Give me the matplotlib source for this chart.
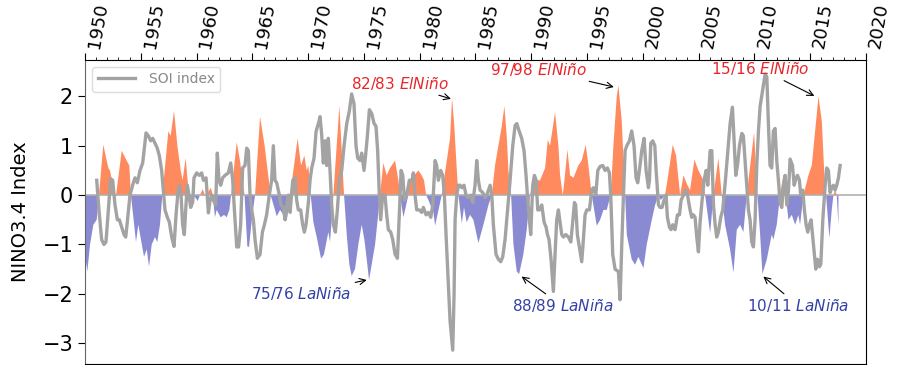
import numpy as np
import matplotlib
matplotlib.use("Agg")
import matplotlib.pyplot as plt
from matplotlib.ticker import MultipleLocator

# ---------------- data ----------------
nino_years = [1950.00, 1950.21, 1950.45, 1950.75, 1951.05, 1951.25, 1951.64, 1952.09, 1952.24, 1952.69,
              1952.75, 1952.84, 1953.29, 1953.73, 1953.97, 1954.12, 1954.57, 1954.78, 1955.29, 1955.53,
              1955.74, 1955.98, 1956.27, 1956.48, 1956.72, 1956.93, 1957.47, 1957.68, 1957.98, 1958.28,
              1958.58, 1958.75, 1959.02, 1959.20, 1959.32, 1959.45, 1959.60, 1959.90, 1960.10, 1960.30,
              1960.55, 1960.75, 1961.00, 1961.29, 1961.45, 1961.65, 1961.80, 1962.16, 1962.46, 1962.70,
              1962.94, 1963.09, 1963.60, 1963.89, 1964.30, 1964.55, 1964.70, 1964.95, 1965.24, 1965.69,
              1966.10, 1966.64, 1967.03, 1967.18, 1967.48, 1967.80, 1968.08, 1968.38, 1969.06, 1969.36,
              1969.66, 1969.87, 1970.02, 1970.23, 1970.47, 1970.77, 1971.16, 1971.42, 1971.81, 1971.96,
              1972.11, 1972.26, 1972.80, 1973.22, 1973.46, 1973.69, 1973.90, 1974.20, 1974.50, 1974.80,
              1975.04, 1975.25, 1975.46, 1975.70, 1976.00, 1976.23, 1976.44, 1976.74, 1977.04, 1977.34,
              1977.79, 1978.09, 1978.24, 1978.54, 1978.69, 1978.98, 1979.13, 1979.88, 1980.18, 1980.39,
              1980.57, 1980.78, 1981.23, 1981.38, 1981.97, 1982.36, 1982.72, 1982.90, 1983.10, 1983.30,
              1983.47, 1983.77, 1983.97, 1984.21, 1984.51, 1984.81, 1985.26, 1985.71, 1986.16, 1986.46,
              1986.75, 1987.05, 1987.35, 1987.59, 1987.80, 1987.95, 1988.19, 1988.40, 1988.70, 1988.91,
              1989.29, 1989.59, 1989.89, 1990.19, 1990.79, 1991.24, 1991.48, 1991.68, 1992.13, 1992.43,
              1992.58, 1992.82, 1992.97, 1993.24, 1993.48, 1993.78, 1994.22, 1994.52, 1994.88, 1995.12,
              1995.42, 1995.87, 1996.17, 1996.47, 1996.76, 1997.12, 1997.36, 1997.66, 1997.81, 1998.11,
              1998.41, 1998.56, 1999.00, 1999.30, 1999.60, 2000.05, 2000.35, 2000.80, 2001.10, 2001.40,
              2001.60, 2001.99, 2002.20, 2002.68, 2002.98, 2003.34, 2003.64, 2004.00, 2004.23, 2004.62,
              2004.98, 2005.43, 2005.58, 2006.03, 2006.33, 2006.77, 2007.07, 2007.37, 2007.82, 2008.12,
              2008.42, 2008.72, 2009.01, 2009.31, 2009.97, 2010.27, 2010.51, 2010.72, 2011.11, 2011.55,
              2011.70, 2012.00, 2012.30, 2012.60, 2012.80, 2013.05, 2013.35, 2013.65, 2013.94, 2014.09,
              2014.39, 2014.84, 2015.14, 2015.44, 2015.74, 2016.04, 2016.25, 2016.42, 2016.72, 2016.93,
              2017.08, 2017.23, 2017.38, 2017.53]
nino_vals = [-1.20, -1.55, -1.00, -0.60, -0.50, 0.00, 1.02, 0.55, 0.50, 0.00,
             -0.05, 0.10, 0.90, 0.70, 0.60, 0.00, -0.95, -0.60, -1.25, -1.10,
             -1.45, -1.00, -0.85, -0.95, -0.60, 0.00, 1.29, 1.20, 1.71, 1.00,
             0.50, 0.30, 0.75, 0.30, 0.00, -0.20, 0.00, -0.05, -0.12, 0.00,
             0.12, 0.00, 0.05, 0.15, 0.00, -0.45, -0.30, -0.45, -0.40, -0.45,
             -0.30, 0.00, 1.07, 0.70, 0.00, -1.04, -1.05, -0.50, 0.00, 1.59,
             1.00, 0.00, -0.30, -0.43, -0.30, -0.40, -0.53, 0.00, 1.15, 0.60,
             0.80, 0.50, 0.60, 0.00, -0.55, -0.85, -1.29, -1.20, -0.75, -0.95,
             -0.50, 0.00, 1.81, 0.00, -0.80, -1.40, -1.64, -1.50, -1.00, -0.60,
             -0.90, -1.30, -1.72, -1.40, -1.00, -0.50, 0.00, 0.65, 0.40, 0.55,
             0.70, 0.30, 0.00, -0.45, -0.30, 0.00, 0.30, 0.50, 0.40, 0.30,
             0.00, -0.10, -0.35, -0.62, 0.00, 0.60, 1.15, 1.97, 1.40, 0.60,
             0.00, -0.57, -0.25, -0.55, -0.40, -0.50, -0.97, -0.60, -0.20, 0.00,
             0.60, 1.00, 1.39, 1.80, 1.20, 0.50, 0.00, -1.00, -1.55, -1.60,
             -1.20, -0.70, 0.00, 0.30, 0.30, 0.55, 1.12, 1.00, 1.68, 1.00,
             0.40, 0.00, 0.30, 0.92, 0.40, 0.35, 0.60, 0.70, 1.02, 0.60,
             0.00, -0.62, -0.50, -0.30, -0.30, 0.00, 1.00, 2.00, 2.22, 1.50,
             0.00, -0.80, -1.30, -1.41, -1.25, -1.48, -1.00, -0.50, -0.20, 0.00,
             -0.10, 0.00, 0.30, 1.02, 0.80, 0.00, 0.40, 0.20, 0.10, 0.72,
             0.50, 0.30, 0.00, -0.77, 0.00, 0.75, 0.00, -0.60, -1.10, -1.57,
             -0.70, -0.60, -0.75, 0.00, 1.27, 0.00, -0.80, -1.60, -1.30, -0.80,
             -0.90, -0.60, 0.00, 0.40, 0.00, -0.50, -0.40, -0.60, -0.40, -0.60,
             0.00, 0.40, 0.60, 1.30, 2.00, 1.50, 0.50, 0.00, -0.87, -0.30,
             0.00, 0.10, 0.00, -0.62]

soi_years = [1951.05, 1951.25, 1951.49, 1951.70, 1951.88, 1952.09, 1952.30, 1952.48, 1952.69, 1952.90,
             1953.08, 1953.29, 1953.50, 1953.65, 1953.79, 1954.03, 1954.27, 1954.48, 1954.69, 1954.93,
             1955.17, 1955.29, 1955.47, 1955.68, 1955.89, 1956.07, 1956.27, 1956.48, 1956.66, 1956.87,
             1957.02, 1957.17, 1957.38, 1957.56, 1957.77, 1957.98, 1958.16, 1958.31, 1958.46, 1958.61,
             1958.75, 1958.90, 1959.05, 1959.17, 1959.32, 1959.47, 1959.65, 1959.77, 1960.01, 1960.25,
             1960.46, 1960.61, 1960.85, 1961.06, 1961.21, 1961.35, 1961.50, 1961.71, 1961.86, 1962.01,
             1962.16, 1962.34, 1962.55, 1962.85, 1963.06, 1963.24, 1963.39, 1963.60, 1963.77, 1963.95,
             1964.13, 1964.34, 1964.49, 1964.64, 1964.79, 1964.94, 1965.09, 1965.24, 1965.45, 1965.69,
             1965.90, 1966.08, 1966.28, 1966.52, 1966.73, 1966.88, 1967.03, 1967.18, 1967.42, 1967.57,
             1967.78, 1967.93, 1968.08, 1968.23, 1968.38, 1968.62, 1968.82, 1968.97, 1969.12, 1969.33,
             1969.51, 1969.66, 1969.81, 1970.02, 1970.17, 1970.32, 1970.53, 1970.71, 1970.92, 1971.07,
             1971.22, 1971.36, 1971.51, 1971.66, 1971.81, 1971.96, 1972.11, 1972.26, 1972.44, 1972.62,
             1972.80, 1973.01, 1973.22, 1973.46, 1973.69, 1973.90, 1974.11, 1974.29, 1974.44, 1974.65,
             1974.80, 1975.01, 1975.19, 1975.31, 1975.49, 1975.70, 1975.91, 1976.08, 1976.23, 1976.38,
             1976.50, 1976.68, 1976.89, 1977.04, 1977.19, 1977.40, 1977.58, 1977.79, 1978.00, 1978.18,
             1978.33, 1978.48, 1978.63, 1978.84, 1979.07, 1979.31, 1979.43, 1979.58, 1979.73, 1979.97,
             1980.18, 1980.33, 1980.57, 1980.78, 1980.99, 1981.17, 1981.38, 1981.52, 1981.67, 1981.88,
             1982.06, 1982.21, 1982.36, 1982.57, 1982.72, 1982.96, 1983.08, 1983.17, 1983.32, 1983.47,
             1983.62, 1983.77, 1983.97, 1984.15, 1984.36, 1984.57, 1984.75, 1984.96, 1985.11, 1985.26,
             1985.41, 1985.65, 1985.86, 1986.01, 1986.31, 1986.46, 1986.60, 1986.84, 1987.05, 1987.26,
             1987.44, 1987.65, 1987.80, 1987.95, 1988.10, 1988.34, 1988.55, 1988.70, 1988.91, 1989.14,
             1989.35, 1989.53, 1989.65, 1989.83, 1989.95, 1990.13, 1990.28, 1990.43, 1990.58, 1990.73,
             1990.94, 1991.15, 1991.33, 1991.45, 1991.59, 1991.77, 1991.98, 1992.13, 1992.28, 1992.43,
             1992.58, 1992.73, 1992.88, 1993.09, 1993.33, 1993.54, 1993.69, 1993.87, 1993.98, 1994.13,
             1994.31, 1994.52, 1994.67, 1994.82, 1994.97, 1995.21, 1995.42, 1995.57, 1995.78, 1995.96,
             1996.17, 1996.41, 1996.61, 1996.82, 1997.00, 1997.12, 1997.30, 1997.51, 1997.81, 1997.96,
             1998.11, 1998.26, 1998.41, 1998.56, 1998.80, 1999.00, 1999.21, 1999.39, 1999.54, 1999.69,
             1999.90, 2000.11, 2000.29, 2000.50, 2000.59, 2000.71, 2000.89, 2001.07, 2001.19, 2001.40,
             2001.54, 2001.72, 2001.90, 2002.08, 2002.20, 2002.38, 2002.53, 2002.68, 2002.89, 2003.10,
             2003.28, 2003.43, 2003.64, 2003.85, 2004.00, 2004.23, 2004.38, 2004.53, 2004.68, 2004.83,
             2004.98, 2005.13, 2005.31, 2005.49, 2005.67, 2005.82, 2006.03, 2006.18, 2006.33, 2006.48,
             2006.62, 2006.77, 2006.98, 2007.16, 2007.28, 2007.40, 2007.58, 2007.82, 2008.03, 2008.18,
             2008.33, 2008.48, 2008.66, 2008.87, 2009.01, 2009.16, 2009.31, 2009.46, 2009.61, 2009.76,
             2009.91, 2010.06, 2010.21, 2010.36, 2010.51, 2010.72, 2010.96, 2011.11, 2011.26, 2011.40,
             2011.55, 2011.70, 2011.85, 2012.00, 2012.15, 2012.30, 2012.45, 2012.60, 2012.75, 2012.90,
             2013.05, 2013.20, 2013.41, 2013.56, 2013.74, 2013.86, 2014.03, 2014.15, 2014.33, 2014.48,
             2014.63, 2014.78, 2014.93, 2015.08, 2015.29, 2015.50, 2015.65, 2015.83, 2015.95, 2016.13,
             2016.34, 2016.48, 2016.63, 2016.78, 2016.93, 2017.08, 2017.23, 2017.38, 2017.53, 2017.68]
soi_vals = [0.30, -0.30, -0.90, -1.00, -0.95, -0.30, 0.33, 0.30, -0.20, -0.50,
            -0.50, -0.65, -0.80, -0.85, -0.55, 0.00, 0.20, 0.35, 0.25, 0.50,
            0.65, 0.90, 1.26, 1.20, 1.10, 1.15, 1.05, 0.95, 0.80, 0.50,
            0.10, -0.30, -0.45, -0.55, -0.85, -1.04, -0.40, 0.00, 0.20, 0.00,
            -0.60, -0.80, -0.20, 0.20, 0.00, -0.25, -0.15, 0.35, 0.45, 0.40,
            0.45, 0.30, 0.35, -0.36, -0.10, 0.00, -0.10, -0.20, 0.85, 0.30,
            0.20, 0.35, 0.40, 0.45, 0.65, 0.30, -0.30, -1.05, -1.05, -0.60,
            0.55, 0.60, 0.95, 0.90, 0.00, -0.30, -0.50, -0.90, -1.28, -1.20,
            -0.75, -0.60, -0.40, 0.00, 0.30, 1.00, 0.30, 0.25, 0.00, -0.20,
            -0.25, -0.50, -0.20, 0.00, -0.35, 0.30, 0.35, -0.10, -0.30, -0.30,
            -0.60, -0.75, -0.60, -0.15, 0.30, 0.55, 0.75, 1.29, 1.45, 1.59,
            1.20, 0.65, 1.10, 0.60, 1.15, 0.50, -0.20, -0.60, -0.75, -0.30,
            0.30, 0.50, 1.00, 1.45, 1.70, 2.05, 1.85, 1.00, 0.75, 0.70,
            0.85, 0.50, 0.90, 1.20, 1.73, 1.65, 1.45, 1.40, 0.90, 0.00,
            -0.50, 0.00, 0.00, -0.40, -0.70, -0.75, -0.90, -1.20, -1.28, -0.35,
            0.50, 0.40, -0.10, 0.00, 0.30, 0.30, 0.45, 0.00, -0.30, -0.30,
            -0.35, -0.25, -0.40, -0.35, -0.45, -0.20, 0.70, 0.60, 0.30, 0.50,
            0.40, 0.00, -0.80, -1.80, -2.55, -3.14, -2.00, -0.50, 0.00, 0.20,
            0.20, 0.15, 0.20, 0.00, -0.05, 0.00, -0.15, 0.20, 0.70, 0.30,
            0.10, 0.05, -0.05, 0.00, 0.20, 0.00, -0.60, -1.20, -1.30, -1.35,
            -1.25, -0.90, -0.50, -0.10, 0.30, 1.00, 1.41, 1.45, 1.30, 1.15,
            0.90, 0.40, 0.00, -0.50, -0.80, 0.20, 0.40, 0.30, -0.30, -0.30,
            -0.20, -0.55, -0.65, -0.80, -0.90, -1.30, -1.95, -1.20, -0.50, -0.30,
            -0.55, -0.80, -0.85, -0.80, -0.85, -0.95, -0.60, -0.15, -0.20, -0.80,
            -1.05, -1.35, -0.90, -0.40, -0.30, -0.30, 0.10, 0.15, 0.00, 0.50,
            0.58, 0.60, 0.50, 0.55, 0.45, 0.00, -1.20, -1.50, -1.55, -2.12,
            -1.00, 0.00, 0.90, 1.00, 1.10, 1.30, 1.00, 0.35, 0.25, 0.50,
            0.90, 1.15, 0.50, 0.15, 0.30, 1.05, 1.10, 1.00, 0.50, -0.20,
            -0.25, -0.25, -0.10, 0.00, -0.45, -0.65, -0.70, -0.60, -0.70, -0.40,
            -0.40, -0.10, 0.00, 0.10, 0.00, -0.30, -0.45, -0.40, -0.45, -0.85,
            -1.15, -0.55, -0.10, 0.30, 0.50, 0.20, 0.90, 0.90, -0.20, -0.60,
            -0.85, -0.75, -0.45, -0.30, 0.00, 0.30, 0.80, 1.45, 1.78, 1.10,
            0.40, 0.60, 1.00, 1.25, 1.20, 0.70, 0.20, -0.30, -0.50, -0.95,
            -1.05, -0.50, 0.60, 1.30, 1.80, 2.10, 2.45, 2.40, 1.40, 0.60,
            0.55, 1.30, 1.35, 0.70, 0.30, -0.15, -0.25, 0.20, 0.40, -0.20,
            0.10, 0.73, 0.60, 0.20, 0.35, 0.40, 0.30, 0.00, 0.10, -0.30,
            -0.60, -0.75, -0.60, -0.50, -1.00, -1.50, -1.30, -1.45, -1.40, -0.50,
            0.20, 0.55, 0.50, 0.05, 0.15, 0.20, 0.10, 0.20, 0.35, 0.60]

year_ticks = list(range(1950, 2021, 5))

events = ["82/83", "97/98", "15/16", "75/76", "88/89", "10/11"]
event_kind = ["ElNiño", "ElNiño", "ElNiño", "LaNiña", "LaNiña", "LaNiña"]
event_xy = [(1982.8, 1.95), (1997.4, 2.19), (2015.37, 2.01),
            (1975.25, -1.72), (1989.13, -1.65), (2010.80, -1.65)]
event_text_xy = [(1978.23, 2.26), (1990.69, 2.54), (2010.54, 2.56),
                 (1969.36, -2.00), (1992.80, -2.245), (2013.95, -2.245)]

# ---------------- figure ----------------
fig = plt.figure(figsize=(8.97, 3.65), dpi=100)
ax = fig.add_axes([85 / 897, 0.003, 781 / 897, 0.833])

nx = np.array(nino_years)
ny = np.array(nino_vals)
ax.fill_between(nx, 0, ny, where=ny >= 0, interpolate=True, color="#ff8a5e", lw=0)
ax.fill_between(nx, 0, ny, where=ny <= 0, interpolate=True, color="#8a8ad2", lw=0)
ax.axhline(0, color="#b0b0b0", lw=1.2, zorder=1)
ax.plot(soi_years, soi_vals, color="#a3a3a3", lw=2.4, label="SOI index", zorder=3)

for name, kind, xy, txy in zip(events, event_kind, event_xy, event_text_xy):
    col = "#e8262a" if kind == "ElNiño" else "#3341a6"
    ax.annotate(name + " $\\it{" + kind + "}$", xy=xy, xytext=txy,
                ha="center", va="center", fontsize=11, color=col,
                arrowprops=dict(arrowstyle="->", color="black", lw=0.8,
                                shrinkA=1, shrinkB=0), zorder=5)

ax.set_xlim(1950, 2020)
ax.set_ylim(-3.42, 2.74)
ax.xaxis.tick_top()
ax.set_xticks(year_ticks)
ax.xaxis.set_minor_locator(MultipleLocator(1))
ax.tick_params(axis="x", which="major", labelsize=13, length=5, pad=2)
ax.tick_params(axis="x", which="minor", length=2.5)
for lbl in ax.get_xticklabels():
    lbl.set_rotation(80)
    lbl.set_ha("left")
ax.set_yticks([-3, -2, -1, 0, 1, 2])
ax.tick_params(axis="y", labelsize=15, length=5)
ax.set_ylabel("NINO3.4 Index", fontsize=14, labelpad=9)
ax.spines["left"].set_color("#666666")

leg = ax.legend(loc="upper left", fontsize=10, handlelength=2.7, handletextpad=1.0,
                labelcolor="#888888", framealpha=1, edgecolor="#dddddd")

fig.savefig("out.png", dpi=100)
